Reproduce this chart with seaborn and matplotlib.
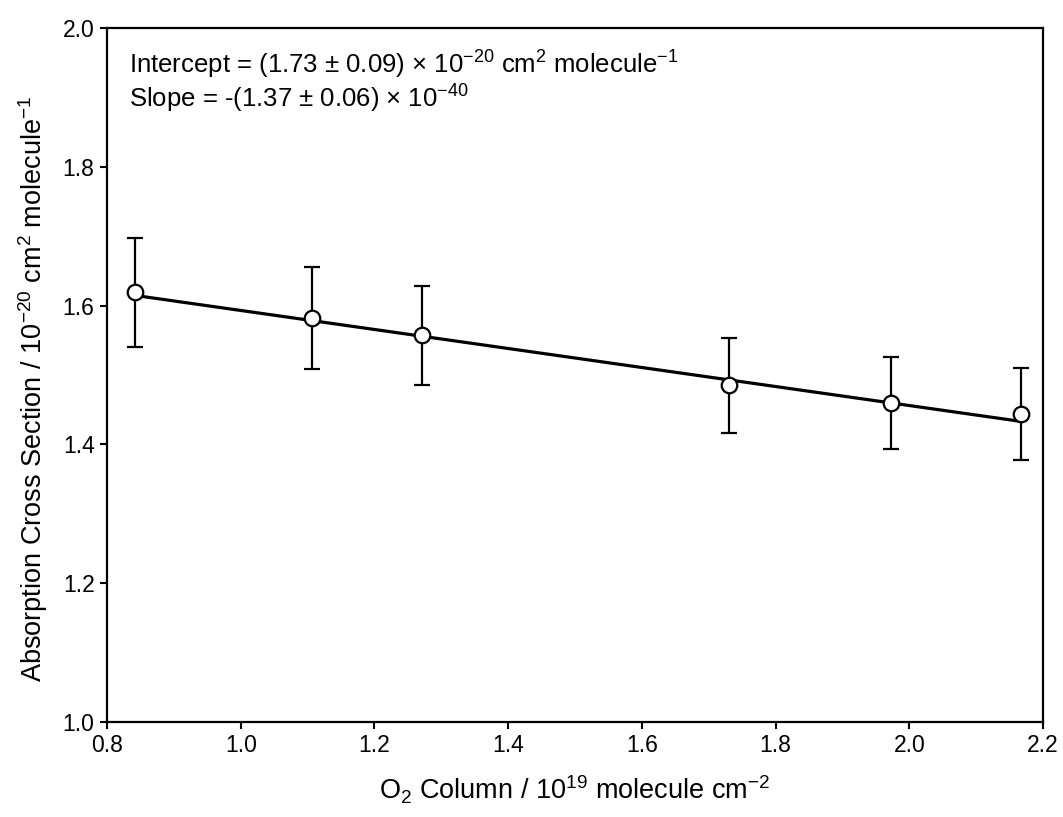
import numpy as np
import pandas as pd
import matplotlib
matplotlib.use("Agg")
import matplotlib.pyplot as plt
import seaborn as sns

# Measured cross sections vs O2 column
o2_column = [0.842, 1.107, 1.271, 1.730, 1.972, 2.167]
cross_section = [1.619, 1.582, 1.557, 1.485, 1.460, 1.444]
cross_error = [0.078, 0.073, 0.071, 0.068, 0.066, 0.066]

# Linear fit parameters (plot units)
fit_intercept = 1.73
fit_slope = -0.137

x_ticks = [0.8, 1.0, 1.2, 1.4, 1.6, 1.8, 2.0, 2.2]
y_ticks = [1.0, 1.2, 1.4, 1.6, 1.8, 2.0]

sns.set_style("ticks")
plt.rcParams["font.family"] = ["Liberation Sans", "DejaVu Sans"]
plt.rcParams["mathtext.fontset"] = "custom"
plt.rcParams["mathtext.rm"] = "Liberation Sans"
plt.rcParams["mathtext.it"] = "Liberation Sans"
plt.rcParams["mathtext.default"] = "regular"
plt.rcParams["text.color"] = "black"
plt.rcParams["axes.labelcolor"] = "black"
plt.rcParams["xtick.color"] = "black"
plt.rcParams["ytick.color"] = "black"
plt.rcParams["axes.unicode_minus"] = False

fig = plt.figure(figsize=(10.63, 8.17), dpi=100)
ax = fig.add_axes([0.1007, 0.1163, 0.8805, 0.8494])

df = pd.DataFrame({"x": o2_column, "y": cross_section, "err": cross_error})

fit_x = np.array([o2_column[0], o2_column[-1]])
fit_df = pd.DataFrame({"x": fit_x, "y": fit_intercept + fit_slope * fit_x})
sns.lineplot(data=fit_df, x="x", y="y", ax=ax, color="black", linewidth=2.3, zorder=2)

ax.errorbar(df["x"], df["y"], yerr=df["err"], fmt="none", ecolor="black",
            elinewidth=1.6, capsize=5.5, capthick=1.6, zorder=3)
sns.scatterplot(data=df, x="x", y="y", ax=ax, marker="o", s=125,
                facecolor="white", edgecolor="black", linewidth=1.6, zorder=4)

ax.set_xlim(0.8, 2.2)
ax.set_ylim(1.0, 2.0)
ax.set_xticks(x_ticks)
ax.set_yticks(y_ticks)
ax.set_xticklabels([f"{v:.1f}" for v in x_ticks])
ax.set_yticklabels([f"{v:.1f}" for v in y_ticks])
ax.tick_params(axis="both", direction="out", length=5, width=1.5, labelsize=16.5, pad=4)

for side in ["left", "right", "top", "bottom"]:
    ax.spines[side].set_visible(True)
    ax.spines[side].set_linewidth(1.6)
    ax.spines[side].set_color("black")

ax.set_xlabel("O$_2$ Column / 10$^{19}$ molecule cm$^{-2}$", fontsize=19.5, labelpad=12)
ax.set_ylabel("Absorption Cross Section / 10$^{-20}$ cm$^{2}$ molecule$^{-1}$", fontsize=19.5)
ax.yaxis.set_label_coords(-0.061, 0.48)

ax.text(0.0235, 0.935,
        "Intercept = (1.73 ± 0.09) × 10$^{-20}$ cm$^{2}$ molecule$^{-1}$",
        transform=ax.transAxes, fontsize=18.5, va="baseline", ha="left")
ax.text(0.0235, 0.886,
        "Slope = -(1.37 ± 0.06) × 10$^{-40}$",
        transform=ax.transAxes, fontsize=18.5, va="baseline", ha="left")

fig.savefig("out.png", dpi=100, facecolor="white")
